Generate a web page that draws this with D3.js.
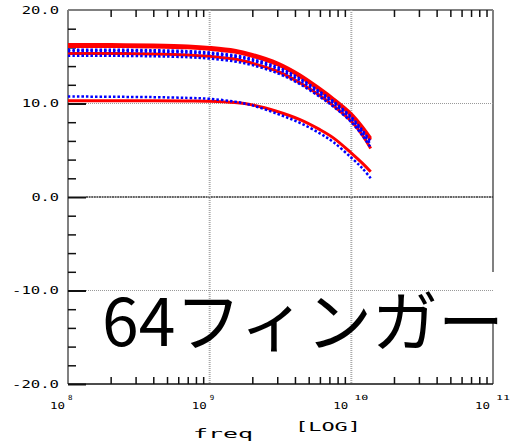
<!DOCTYPE html>
<html><head><meta charset="utf-8">
<script src="https://cdn.jsdelivr.net/npm/d3@7"></script>
<style>html,body{margin:0;padding:0;background:#fff;} svg{display:block}</style>
</head><body>
<svg id="c" width="512" height="444"></svg>
<script>
// ---- data ----
const freqs  = [1e8, 2e8, 4e8, 7e8, 1e9, 1.5e9, 2e9, 3e9, 4.3e9, 6e9, 7.5e9, 1e10, 1.2e10, 1.37e10];
const red1   = [16.3, 16.3, 16.25, 16.15, 16.0, 15.7, 15.25, 14.35, 13.1, 11.6, 10.5, 8.9, 7.5, 6.3];
const red2   = [16.1, 16.1, 16.05, 15.95, 15.8, 15.5, 15.05, 14.15, 12.9, 11.4, 10.3, 8.7, 7.3, 6.1];
const red3   = [15.35, 15.35, 15.3, 15.2, 15.05, 14.75, 14.3, 13.45, 12.25, 10.85, 9.75, 8.1, 6.6, 5.2];
const redLow = [10.3, 10.3, 10.3, 10.28, 10.25, 10.1, 9.85, 9.15, 8.3, 7.2, 6.3, 4.7, 3.6, 2.7];
const blue1  = [15.75, 15.75, 15.7, 15.6, 15.45, 15.15, 14.75, 13.9, 12.7, 11.25, 10.2, 8.55, 7.1, 5.9];
const blue2  = [15.6, 15.6, 15.55, 15.45, 15.3, 15.0, 14.6, 13.7, 12.5, 11.05, 10.0, 8.35, 6.9, 5.6];
const blue3  = [15.1, 15.1, 15.05, 14.95, 14.8, 14.5, 14.1, 13.25, 12.1, 10.7, 9.65, 8.0, 6.55, 5.3];
const blueLow= [10.75, 10.72, 10.68, 10.6, 10.5, 10.2, 9.8, 8.9, 7.95, 6.8, 5.85, 4.2, 3.05, 2.0];
const redSeries  = [red1, red2, red3, redLow];
const blueSeries = [blue1, blue2, blue3, blueLow];

const yTickValues = [20, 10, 0, -10, -20];
const yTickLabels = ["20.0", "10.0", "0.0", "-10.0", "-20.0"];
const yMinorTicks = [18,16,14,12,8,6,4,2,-2,-4,-6,-8,-12,-14,-16,-18];
const xDecades = [8, 9, 10, 11];
const xGridDecades = [9, 10];
const xTitle = "freq";
const xUnit = "[LOG]";
const caption = "64フィンガー";

// ---- scales ----
const L = 68, R = 493, T = 10, B = 384;
const x = d3.scaleLog().domain([1e8, 1e11]).range([L, R]);
const y = d3.scaleLinear().domain([-20, 20]).range([B, T]);
const svg = d3.select("#c");
svg.append("rect").attr("width", 512).attr("height", 444).attr("fill", "#fff");

// frame (gray borders)
const frame = svg.append("g").attr("stroke", "#808080").attr("stroke-width", 2).attr("fill", "none");
frame.append("line").attr("x1", L).attr("x2", L).attr("y1", T).attr("y2", B);
frame.append("line").attr("x1", L).attr("x2", R).attr("y1", T).attr("y2", T);
frame.append("line").attr("x1", R).attr("x2", R).attr("y1", T).attr("y2", B);

// white patch behind caption
svg.append("rect").attr("x", 100).attr("y", 272).attr("width", 402).attr("height", 46).attr("fill", "#fff");

// minor x ticks (2..9 per decade)
const minorX = [];
for (let d = 8; d < 11; d++) for (let k = 2; k <= 9; k++) minorX.push(k * Math.pow(10, d));

const gBot = svg.append("g").attr("transform", `translate(0,${B})`)
  .call(d3.axisTop(x).tickValues(minorX).tickSize(7).tickFormat(""));
const gTop = svg.append("g").attr("transform", `translate(0,${T})`)
  .call(d3.axisBottom(x).tickValues(minorX).tickSize(7).tickFormat(""));
const gLeftMinor = svg.append("g").attr("transform", `translate(${L},0)`)
  .call(d3.axisRight(y).tickValues(yMinorTicks).tickSize(8).tickFormat(""));
const gLeftMajor = svg.append("g").attr("transform", `translate(${L},0)`)
  .call(d3.axisRight(y).tickValues([10, 0, -10, -20]).tickSize(18).tickFormat(""));
[gBot, gTop, gLeftMinor, gLeftMajor].forEach(g => {
  g.select(".domain").remove();
  g.selectAll(".tick line").attr("stroke", "#111").attr("stroke-width", 1.5);
});
gLeftMajor.selectAll(".tick line").attr("stroke-width", 2);

// gridlines
const grid = svg.append("g");
[10, -10].forEach(v => grid.append("line").attr("x1", L + 18).attr("x2", R).attr("y1", y(v)).attr("y2", y(v))
  .attr("stroke", "#999").attr("stroke-width", 1).attr("stroke-dasharray", "1,1"));
grid.append("line").attr("x1", L + 18).attr("x2", R).attr("y1", y(0)).attr("y2", y(0))
  .attr("stroke", "#333").attr("stroke-width", 1.6).attr("stroke-dasharray", "2,0.6");
xGridDecades.forEach(d => grid.append("line").attr("x1", x(Math.pow(10, d))).attr("x2", x(Math.pow(10, d)))
  .attr("y1", T).attr("y2", B).attr("stroke", "#aaa").attr("stroke-width", 2).attr("stroke-dasharray", "1,1"));

// bottom axis line (black)
svg.append("line").attr("x1", L).attr("x2", R).attr("y1", B).attr("y2", B).attr("stroke", "#111").attr("stroke-width", 1.5);

// curves
const line = d3.line().x((d, i) => x(freqs[i])).y(d => y(d)).curve(d3.curveCatmullRom.alpha(0.5));
redSeries.forEach(s => svg.append("path").attr("d", line(s)).attr("fill", "none")
  .attr("stroke", "#ff0000").attr("stroke-width", 3));
blueSeries.forEach(s => svg.append("path").attr("d", line(s)).attr("fill", "none")
  .attr("stroke", "#0000ff").attr("stroke-width", 2.5).attr("stroke-dasharray", "2.5,2"));

// y labels (stretched mono)
const mono = "'DejaVu Sans Mono', monospace";
yTickLabels.forEach((t, i) => {
  const w = t.length * 9.7 - 1.5;
  svg.append("text").attr("x", 59 - w).attr("y", y(yTickValues[i]) + 3.8)
    .attr("font-family", mono).attr("font-size", 10).attr("fill", "#000")
    .attr("textLength", w).attr("lengthAdjust", "spacingAndGlyphs").text(t);
});

// x labels: 10 with exponent
xDecades.forEach(d => {
  const tx = x(Math.pow(10, d));
  const e = String(d);
  const left = tx - 18;
  svg.append("text").attr("x", left).attr("y", 409).attr("font-family", mono).attr("font-size", 8)
    .attr("fill", "#000").attr("textLength", 15).attr("lengthAdjust", "spacingAndGlyphs").text("10");
  svg.append("text").attr("x", left + (e.length === 1 ? 18 : 21)).attr("y", 400).attr("font-family", mono)
    .attr("font-size", 7).attr("fill", "#000").attr("textLength", e.length === 1 ? 4.5 : 14)
    .attr("lengthAdjust", "spacingAndGlyphs").text(e);
});

// axis title
svg.append("text").attr("x", 193).attr("y", 438).attr("font-family", mono).attr("font-size", 13)
  .attr("fill", "#000").attr("textLength", 60).attr("lengthAdjust", "spacingAndGlyphs").text(xTitle);
svg.append("text").attr("x", 295).attr("y", 431).attr("font-family", mono).attr("font-size", 12)
  .attr("fill", "#000").attr("textLength", 66).attr("lengthAdjust", "spacingAndGlyphs").text(xUnit);

// caption
svg.append("text").attr("x", 102).attr("y", 346).attr("font-family", "'Noto Sans CJK JP', sans-serif")
  .attr("font-size", 66).attr("fill", "#000").text(caption);
</script>
</body></html>
